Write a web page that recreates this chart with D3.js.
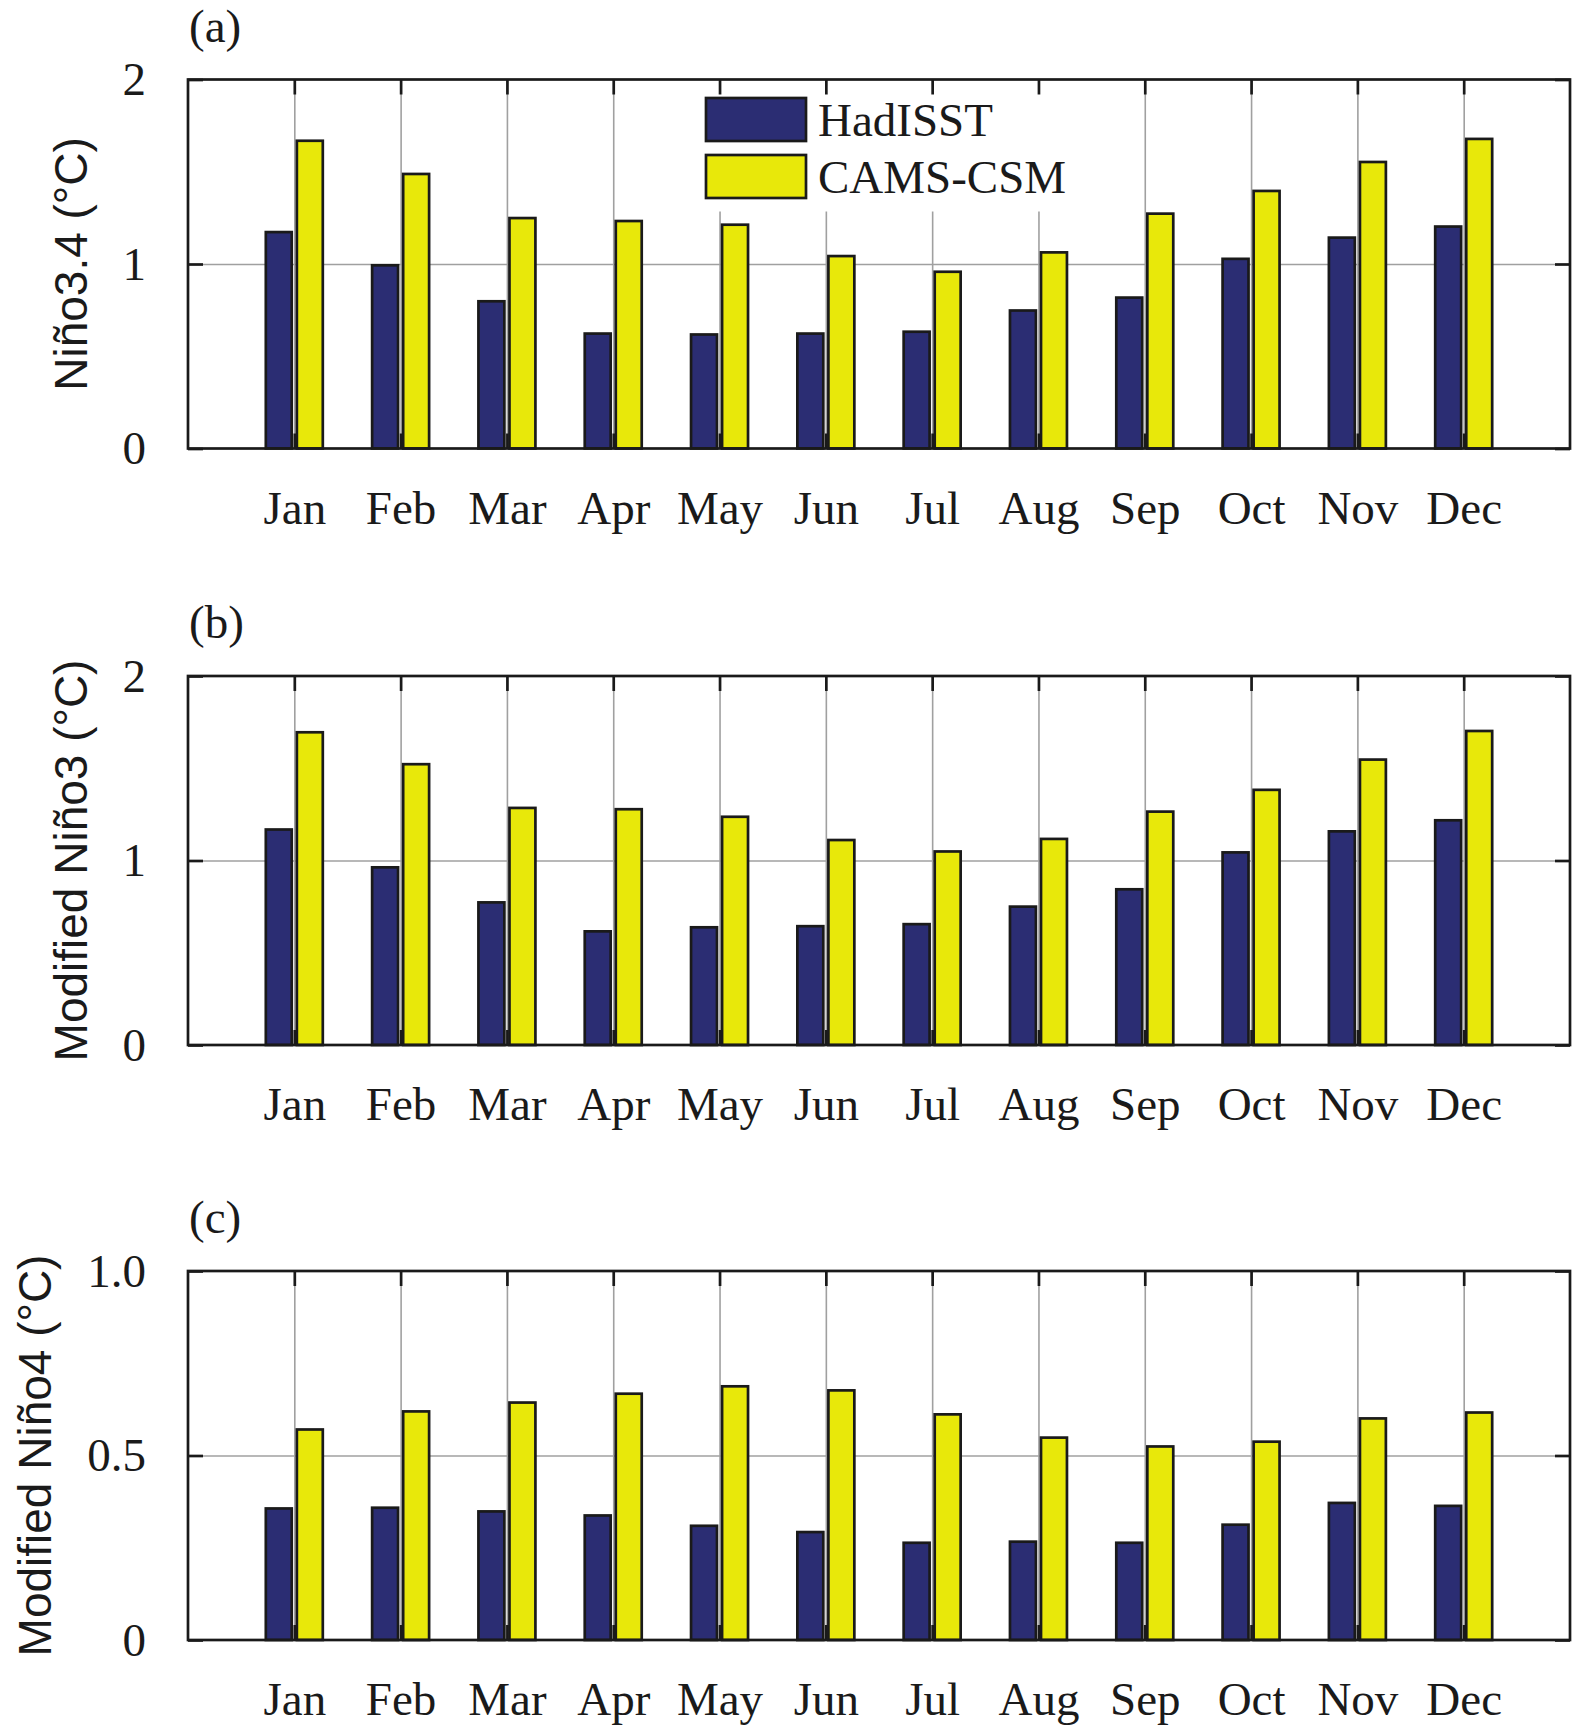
<!DOCTYPE html>
<html>
<head>
<meta charset="utf-8">
<script src="https://cdn.jsdelivr.net/npm/d3@7"></script>
<style>
  body { margin: 0; background: #fff; }
  svg { display: block; }
</style>
</head>
<body>
<script>
// monthly values
var months = ["Jan", "Feb", "Mar", "Apr", "May", "Jun", "Jul", "Aug", "Sep", "Oct", "Nov", "Dec"];
var seriesNames = ["HadISST", "CAMS-CSM"];

var hadNino34 = [1.18, 1.0, 0.805, 0.63, 0.625, 0.63, 0.64, 0.755, 0.825, 1.035, 1.15, 1.21];
var camsNino34 = [1.675, 1.495, 1.256, 1.24, 1.22, 1.05, 0.965, 1.07, 1.28, 1.403, 1.56, 1.685];

var hadNino3 = [1.175, 0.97, 0.78, 0.623, 0.645, 0.651, 0.662, 0.757, 0.851, 1.051, 1.165, 1.225];
var camsNino3 = [1.702, 1.529, 1.292, 1.285, 1.244, 1.118, 1.056, 1.124, 1.272, 1.39, 1.554, 1.709];

var hadNino4 = [0.36, 0.362, 0.352, 0.341, 0.313, 0.296, 0.267, 0.27, 0.267, 0.316, 0.375, 0.367];
var camsNino4 = [0.574, 0.623, 0.647, 0.671, 0.691, 0.68, 0.615, 0.552, 0.528, 0.541, 0.604, 0.62];

var yTicksAB = [0, 1, 2];
var yTicksC = [0, 0.5, 1.0];

var panels = [
  { tag: "(a)", label: "Niño3.4 (°C)", had: hadNino34, cams: camsNino34, ymax: 2, ticks: yTicksAB, fmt: d3.format("d"), legend: true },
  { tag: "(b)", label: "Modified Niño3 (°C)", had: hadNino3, cams: camsNino3, ymax: 2, ticks: yTicksAB, fmt: d3.format("d"), legend: false },
  { tag: "(c)", label: "Modified Niño4 (°C)", had: hadNino4, cams: camsNino4, ymax: 1, ticks: yTicksC, fmt: function (d) { return d === 0 ? "0" : d3.format(".1f")(d); }, legend: false }
];

// layout
var width = 1575, height = 1730;
var left = 188, right = 1570;
var tops = [79.5, 676, 1271];
var ph = 369;
var labelX = [87, 87, 51];

var colors = ["#2b2d73", "#e8e80a"];
var edge = "#1a1a1a";
var serif = "'Liberation Serif', 'Times New Roman', serif";
var sans = "'Liberation Sans', Arial, sans-serif";

var svg = d3.select("body").append("svg")
  .attr("width", width)
  .attr("height", height);

var x = d3.scaleLinear().domain([0, 13]).range([left, right]);
var monthPos = months.map((m, i) => i + 1);

// bar extents relative to month centre, in month units
var barOffsets = [[-0.268, -0.024], [0.024, 0.268]];

panels.forEach(function (p, pi) {
  var top = tops[pi];
  var bottom = top + ph;
  var y = d3.scaleLinear().domain([0, p.ymax]).range([bottom, top]);

  var g = svg.append("g");

  // grid
  g.append("g")
    .attr("transform", `translate(0,${bottom})`)
    .call(d3.axisBottom(x).tickValues(monthPos).tickSize(-ph).tickSizeOuter(0).tickFormat(""))
    .call(g => g.select(".domain").remove())
    .call(g => g.selectAll("line").attr("stroke", "#a0a0a0").attr("stroke-width", 1.6));

  g.append("g")
    .attr("transform", `translate(${left},0)`)
    .call(d3.axisLeft(y).tickValues(p.ticks.slice(1, -1)).tickSize(-(right - left)).tickSizeOuter(0).tickFormat(""))
    .call(g => g.select(".domain").remove())
    .call(g => g.selectAll("line").attr("stroke", "#a0a0a0").attr("stroke-width", 1.6));

  // bars
  [p.had, p.cams].forEach(function (vals, si) {
    g.append("g")
      .selectAll("rect")
      .data(vals)
      .join("rect")
      .attr("x", (d, i) => x(monthPos[i] + barOffsets[si][0]))
      .attr("width", (d, i) => x(monthPos[i] + barOffsets[si][1]) - x(monthPos[i] + barOffsets[si][0]))
      .attr("y", d => y(d) + 1.3)
      .attr("height", d => y(0) - y(d) - 1.3)
      .attr("fill", colors[si])
      .attr("stroke", edge)
      .attr("stroke-width", 2.7);
  });

  // legend
  if (p.legend) {
    var lg = g.append("g");
    lg.append("rect")
      .attr("x", 692).attr("y", top + 6)
      .attr("width", 386).attr("height", 126)
      .attr("fill", "#fff");
    seriesNames.forEach(function (name, si) {
      var sy = 98 + si * 57;
      lg.append("rect")
        .attr("x", 706).attr("y", sy)
        .attr("width", 100).attr("height", 43)
        .attr("fill", colors[si])
        .attr("stroke", edge)
        .attr("stroke-width", 2.7);
      lg.append("text")
        .attr("x", 818).attr("y", sy + 38)
        .attr("font-family", serif)
        .attr("font-size", 47)
        .attr("fill", "#1a1a1a")
        .text(name);
    });
  }

  // axes with inward ticks
  var axisStyle = function (sel) {
    sel.select(".domain").remove();
    sel.selectAll("line").attr("stroke", edge).attr("stroke-width", 2.7);
    sel.selectAll("text")
      .attr("font-family", serif)
      .attr("font-size", 47)
      .attr("fill", "#1a1a1a");
  };

  g.append("g")
    .attr("transform", `translate(0,${bottom})`)
    .call(d3.axisBottom(x).tickValues(monthPos).tickSize(-15).tickSizeOuter(0).tickPadding(42)
      .tickFormat((d, i) => months[i]))
    .call(axisStyle);

  g.append("g")
    .attr("transform", `translate(0,${top})`)
    .call(d3.axisTop(x).tickValues(monthPos).tickSize(-15).tickSizeOuter(0).tickFormat(""))
    .call(axisStyle);

  g.append("g")
    .attr("transform", `translate(${left},0)`)
    .call(d3.axisLeft(y).tickValues(p.ticks).tickSize(-15).tickSizeOuter(0).tickPadding(42).tickFormat(p.fmt))
    .call(axisStyle);

  g.append("g")
    .attr("transform", `translate(${right},0)`)
    .call(d3.axisRight(y).tickValues(p.ticks).tickSize(-15).tickSizeOuter(0).tickFormat(""))
    .call(axisStyle);

  // box
  g.append("rect")
    .attr("x", left).attr("y", top)
    .attr("width", right - left).attr("height", ph)
    .attr("fill", "none")
    .attr("stroke", edge)
    .attr("stroke-width", 2.7);

  // panel tag
  g.append("text")
    .attr("x", left + 1)
    .attr("y", top - 38)
    .attr("font-family", serif)
    .attr("font-size", 47)
    .attr("fill", "#1a1a1a")
    .text(p.tag);

  // y label
  g.append("text")
    .attr("transform", `translate(${labelX[pi]},${(top + bottom) / 2}) rotate(-90)`)
    .attr("text-anchor", "middle")
    .attr("font-family", sans)
    .attr("font-size", 46)
    .attr("fill", "#1a1a1a")
    .text(p.label);
});
</script>
</body>
</html>
